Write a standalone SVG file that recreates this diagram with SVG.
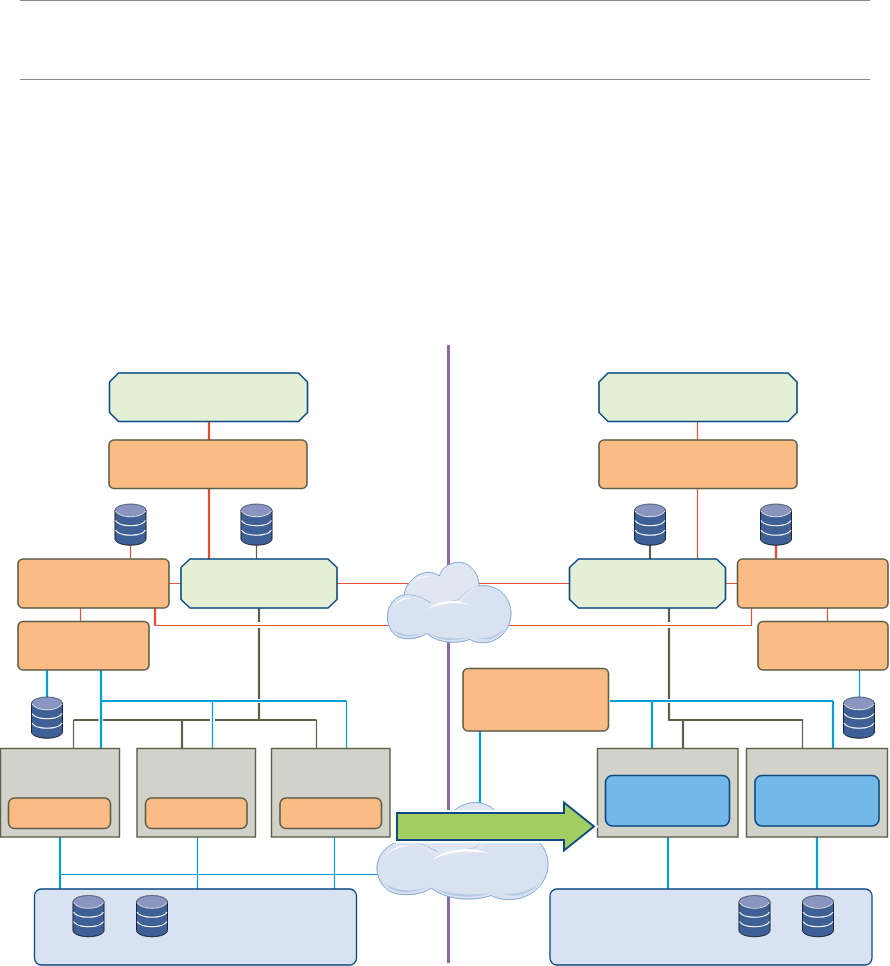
<svg xmlns="http://www.w3.org/2000/svg" xmlns:xlink="http://www.w3.org/1999/xlink" width="890" height="966" viewBox="0 0 890 966">
<style>
.rule{stroke:#8a8a8a;stroke-width:1;fill:none}
.orange{fill:#fbbb85;stroke:#5f5f49;stroke-width:1.6}
.green{fill:#e4f0d6;stroke:#0d4a84;stroke-width:1.6}
.server{fill:#d1d2c9;stroke:#5f5f49;stroke-width:1.4}
.inner{fill:#72b9e8;stroke:#0d4a84;stroke-width:1.6}
.pale{fill:#d9e2f1;stroke:#0d4a84;stroke-width:1.3}
.r1,.r2,.d1,.d2,.b1,.b2{fill:none}
.r1{stroke:#e5533a;stroke-width:1.2}
.r2{stroke:#e9492c;stroke-width:2.2}
.d1{stroke:#5f5f49;stroke-width:1.2}
.d2{stroke:#5f5f49;stroke-width:2.2}
.b1{stroke:#009fda;stroke-width:1.2}
.b2{stroke:#009fda;stroke-width:2.2}
</style>
<defs>
<g id="db">
<path d="M0.5,6.5V35.5C0.5,39 7.5,41.7 16,41.7S31.5,39 31.5,35.5V6.5Z" fill="#3f5f97" stroke="#1b2430" stroke-width="1"/>
<ellipse cx="16" cy="6.8" rx="15.5" ry="6.3" fill="#8a96bf" stroke="#3a4660" stroke-width="0.8"/>
<path d="M1,7.5C3,11 9,13.2 16,13.2S29,11 31,7.5" fill="none" stroke="#fff" stroke-width="0.9"/>
<path d="M1,17C3,20.5 9,22.2 16,22.2S29,20.5 31,17M1,26.5C3,30 9,31.7 16,31.7S29,30 31,26.5" fill="none" stroke="#fff" stroke-width="1.1"/>
</g>
<g id="cloud">
<path d="M103,135C105,100 140,68 175,67C188,67 200,72 208,78C215,50 245,37 265,37C300,37 328,70 327,110L200,200Z" fill="#e0e7f3" stroke="#7fa8d3" stroke-width="1" vector-effect="non-scaling-stroke"/>
<path d="M103,135C80,135 52,165 52,200C52,230 70,262 100,265C120,268 150,265 170,250C210,285 270,280 300,268C315,278 330,278 345,278C385,276 423,240 423,190C423,155 400,110 345,107C315,105 285,125 265,150L190,165C165,145 135,133 103,135Z" fill="#d8e2f1" stroke="#7fa8d3" stroke-width="1" vector-effect="non-scaling-stroke"/>
<path d="M103,135C135,133 165,145 180,160L265,150C285,125 310,108 327,108V112C300,125 285,145 270,165L180,172C160,150 130,140 103,138Z" fill="#dfe6f2"/>
<path d="M70,238C85,262 125,268 160,247C130,260 95,258 70,238ZM172,247C205,275 265,275 298,262C265,268 205,268 172,247ZM322,262C345,275 385,268 405,235C385,258 350,268 322,262Z" fill="#b7c9e2"/>
<path d="M172,180C200,150 260,145 300,165C265,155 210,155 172,180ZM70,172C85,148 105,140 125,146C105,146 85,152 70,172ZM132,96C145,80 165,74 190,80C170,79 150,82 132,96Z" fill="#fff"/>
</g>
</defs>

<path class="rule" d="M20,0.5H870M20,79.5H870"/>
<path id="divider" d="M448.5,345V963" stroke="#8f68a8" stroke-width="3" fill="none"/>

<g id="connectors">
<path class="r2" d="M209,422V440M209,488V559"/>
<path class="r1" d="M130.5,545V559M169,583.5H181M337,583.500H420M80.5,608V621.5M155,625.5H400"/>
<path class="r2" d="M155,608V625.5"/>
<path class="d1" d="M256.5,545V559"/>
<path class="d2" d="M259,608V622M259,628V699M259,703V720"/>
<path class="d2" d="M73.5,720H98.5M103,720H210M215,720H316.5"/>
<path class="d1" d="M73.5,720V748M316.5,720V748"/>
<path class="d2" d="M182,720V748"/>
<path class="b2" d="M47,670V697M101,670V748M101,701H346.5"/>
<path class="b1" d="M212.5,701V748M346.5,701V748"/>
<path class="b2" d="M60,837V889"/>
<path class="b1" d="M60,874.5H385M197.5,837V889M334.5,837V889"/>
<path class="r1" d="M697.5,422V440M697.5,488V559M470,583.5H570M725,583.5H737.5M827.5,608V621.5M751.5,608V625.5H500"/>
<path class="d2" d="M650,545V559"/>
<path class="r2" d="M776,545V559"/>
<path class="d2" d="M669,608V622M669,628V699M669,703V720H803"/>
<path class="d2" d="M683,720V748"/>
<path class="d1" d="M802.5,720V748"/>
<path class="b2" d="M610,701H833M652,701V748M833,701V748M480,731V806"/>
<path class="b1" d="M859.5,670V697"/>
<path class="b2" d="M668,837V889M817,837V889"/>
</g>

<g id="cloud-top"><use xlink:href="#cloud" href="#cloud" transform="translate(370,550) scale(0.3333)"/></g>
<g id="cloud-bottom"><use xlink:href="#cloud" href="#cloud" transform="translate(353,787.6) scale(0.461,0.4025)"/></g>

<g id="policy-left"><path class="green" d="M118.5,373H298.5L307.5,382V412.5L298.5,421.5H118.5L109.5,412.5V382Z"/></g>
<g id="app-left"><rect class="orange" x="109" y="440" width="198" height="48.500" rx="5"/></g>
<g id="db-l1"><use href="#db" x="114.500" y="503.500"/></g>
<g id="db-l2"><use href="#db" x="240.500" y="503.500"/></g>
<g id="orange-l1"><rect class="orange" x="18" y="559" width="151" height="49" rx="5"/></g>
<g id="green-l"><path class="green" d="M190,559H328L337,567.500V599.500L328,608H190L181,599.500V567.500Z"/></g>
<g id="orange-l2"><rect class="orange" x="18" y="621.500" width="131" height="48.500" rx="5"/></g>
<g id="db-l3"><use href="#db" x="31" y="696.500"/></g>
<g id="server-l1"><rect class="server" x="0.500" y="748.500" width="119" height="88.500"/><rect class="orange" x="8.500" y="798" width="102" height="30.500" rx="6"/></g>
<g id="server-l2"><rect class="server" x="137" y="748.500" width="118.500" height="88.500"/><rect class="orange" x="145.500" y="798" width="101.500" height="30.500" rx="6"/></g>
<g id="server-l3"><rect class="server" x="271.500" y="748.500" width="118.500" height="88.500"/><rect class="orange" x="280" y="798" width="101.500" height="30.500" rx="6"/></g>
<g id="storage-l"><rect class="pale" x="34.500" y="889" width="322" height="76" rx="7"/><use href="#db" x="72.500" y="895"/><use href="#db" x="136" y="895"/></g>

<g id="policy-right"><path class="green" d="M608,373H788L797,382V412.500L788,421.500H608L599,412.500V382Z"/></g>
<g id="app-right"><rect class="orange" x="599" y="440" width="198" height="48.500" rx="5"/></g>
<g id="db-r1"><use href="#db" x="634" y="503.500"/></g>
<g id="db-r2"><use href="#db" x="760" y="503.500"/></g>
<g id="green-r"><path class="green" d="M578.500,559H716.500L725.500,567.500V599.500L716.500,608H578.500L569.500,599.500V567.500Z"/></g>
<g id="orange-r1"><rect class="orange" x="737.500" y="559" width="150.500" height="49" rx="5"/></g>
<g id="orange-r2"><rect class="orange" x="758" y="621.500" width="130" height="48.500" rx="5"/></g>
<g id="orange-r3"><rect class="orange" x="463" y="668.500" width="145.500" height="62.500" rx="5"/></g>
<g id="db-r3"><use href="#db" x="843" y="696.500"/></g>
<g id="server-r1"><rect class="server" x="597.500" y="748.500" width="140.500" height="88.500"/><rect class="inner" x="605.500" y="775.500" width="124" height="50.500" rx="7"/></g>
<g id="server-r2"><rect class="server" x="746.500" y="748.500" width="141" height="88.500"/><rect class="inner" x="755" y="775.500" width="124" height="50.500" rx="7"/></g>
<g id="storage-r"><rect class="pale" x="550" y="889" width="322" height="76" rx="7"/><use href="#db" x="738.500" y="895"/><use href="#db" x="802" y="895"/></g>

<g id="transfer-arrow">
<path d="M396.500,813H564V802L594,826.500L564,851V840H396.500Z" fill="none" stroke="#fff" stroke-width="6"/>
<path d="M397,813H564V802.500L594,826.500L564,850.500V840H397Z" fill="#a3ce62" stroke="#0d4a84" stroke-width="2"/>
</g>
</svg>
